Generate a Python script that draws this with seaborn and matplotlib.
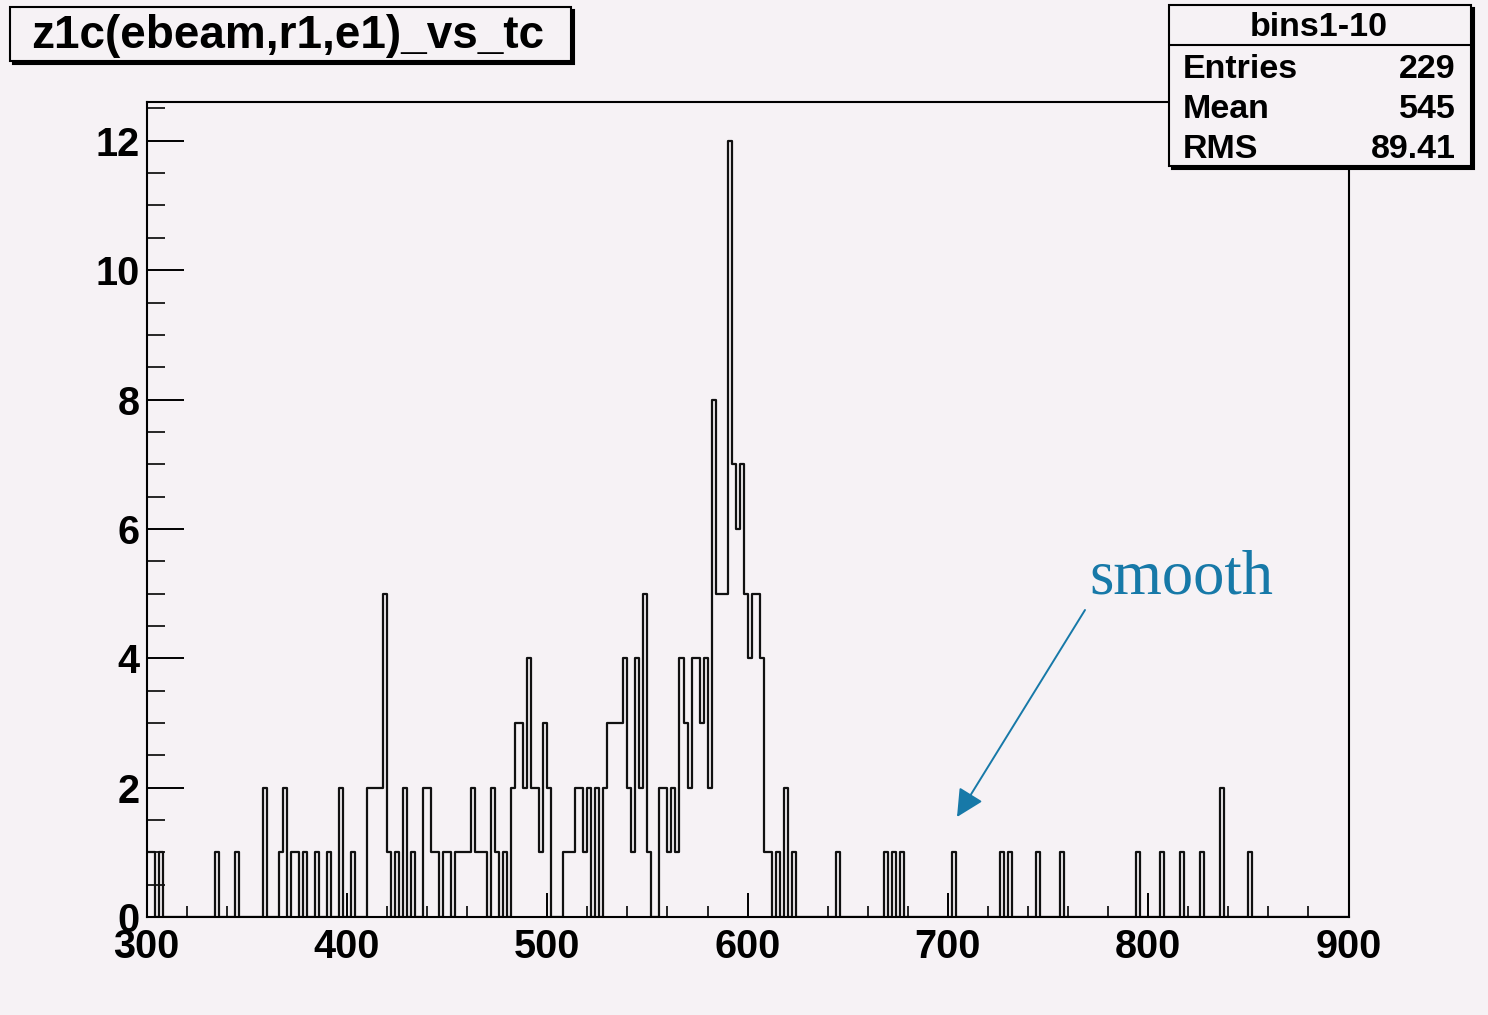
import numpy as np
import pandas as pd
import matplotlib
matplotlib.use("Agg")
import matplotlib.pyplot as plt
from matplotlib.patches import Rectangle, FancyArrowPatch
from matplotlib.ticker import MultipleLocator
import seaborn as sns

# tc bin centres (bin width 2) and their contents
tc_centers = [301, 303, 307, 335, 345, 359, 367, 369, 373, 375, 379, 385, 391,
              397, 403, 411, 413, 415, 417, 419, 421, 425, 429, 433, 439, 441,
              443, 445, 449, 451, 455, 457, 459, 461, 463, 465, 467, 469, 473,
              475, 479, 483, 485, 487, 489, 491, 493, 495, 497, 499, 501, 509,
              511, 513, 515, 517, 519, 521, 525, 529, 531, 533, 535, 537, 539,
              541, 543, 545, 547, 549, 551, 557, 559, 561, 563, 565, 567, 569,
              571, 573, 575, 577, 579, 581, 583, 585, 587, 589, 591, 593, 595,
              597, 599, 601, 603, 605, 607, 609, 611, 615, 619, 623, 645, 669,
              673, 677, 703, 727, 731, 745, 757, 795, 807, 817, 827, 837, 851]
counts = [1, 1, 1, 1, 1, 2, 1, 2, 1, 1, 1, 1, 1,
          2, 1, 2, 2, 2, 2, 5, 1, 1, 2, 1, 2, 2,
          1, 1, 1, 1, 1, 1, 1, 1, 2, 1, 1, 1, 2,
          1, 1, 2, 3, 3, 2, 4, 2, 2, 1, 3, 2, 1,
          1, 1, 2, 2, 1, 2, 2, 2, 3, 3, 3, 3, 4,
          2, 1, 4, 2, 5, 1, 2, 2, 1, 2, 1, 4, 3,
          2, 4, 4, 3, 4, 2, 8, 5, 5, 5, 12, 7, 6,
          7, 5, 4, 5, 5, 4, 1, 1, 1, 2, 1, 1, 1,
          1, 1, 1, 1, 1, 1, 1, 1, 1, 1, 1, 2, 1]

x_ticks = [300, 400, 500, 600, 700, 800, 900]
y_ticks = [0, 2, 4, 6, 8, 10, 12]

hist_title = "z1c(ebeam,r1,e1)_vs_tc"
stats_name = "bins1-10"
stats_labels = ["Entries", "Mean", "RMS"]
stats_values = ["229", "545", "89.41"]
note_text = "smooth"

BG = "#f6f2f5"
W, H = 1488, 1015

sns.set_theme(style="white")
plt.rcParams["font.family"] = ["Liberation Sans", "DejaVu Sans"]

fig = plt.figure(figsize=(W / 100, H / 100), dpi=100, facecolor=BG)

# main frame in pixel placement
left, right, top, bottom = 146.7, 1348.5, 102, 917
ax = fig.add_axes([left / W, 1 - bottom / H, (right - left) / W, (bottom - top) / H])
ax.set_facecolor(BG)

df = pd.DataFrame({"tc": tc_centers, "n": counts})
sns.histplot(data=df, x="tc", weights="n", binwidth=2, binrange=(300, 900),
             element="step", fill=False, color="#111111", linewidth=1.6, ax=ax)

ax.set_xlim(300, 900)
ax.set_ylim(0, 12.6)
ax.set_xticks(x_ticks)
ax.set_yticks(y_ticks)
ax.set_xticklabels([str(t) for t in x_ticks])
ax.set_yticklabels([str(t) for t in y_ticks])
ax.xaxis.set_minor_locator(MultipleLocator(20))
ax.yaxis.set_minor_locator(MultipleLocator(0.5))
ax.set_xlabel("")
ax.set_ylabel("")

ax.tick_params(axis="x", which="major", direction="in", length=17, width=1.4,
               pad=8, labelsize=28.5, colors="black", bottom=True, top=False)
ax.tick_params(axis="x", which="minor", direction="in", length=8, width=1.4,
               bottom=True, top=False)
ax.tick_params(axis="y", which="major", direction="in", length=26.5, width=1.4,
               pad=5, labelsize=28.5, colors="black", left=True, right=False)
ax.tick_params(axis="y", which="minor", direction="in", length=13, width=1.4,
               left=True, right=False)
for lab in ax.get_xticklabels() + ax.get_yticklabels():
    lab.set_fontweight("bold")
for sp in ax.spines.values():
    sp.set_visible(True)
    sp.set_color("black")
    sp.set_linewidth(1.5)

# overlay in pixel coordinates for the title box, stats box and note
ov = fig.add_axes([0, 0, 1, 1], facecolor="none")
ov.set_xlim(0, W)
ov.set_ylim(H, 0)
ov.axis("off")


def shadow_box(x0, y0, x1, y1, off=3):
    ov.add_patch(Rectangle((x0 + off, y0 + off), x1 - x0, y1 - y0,
                           facecolor="black", edgecolor="black", lw=1.5, zorder=5))
    ov.add_patch(Rectangle((x0, y0), x1 - x0, y1 - y0,
                           facecolor=BG, edgecolor="black", lw=1.5, zorder=6))


shadow_box(10, 7, 571, 61)
ov.text(288, 36, hist_title, ha="center", va="center", fontsize=33,
        fontweight="bold", color="black", zorder=7)

shadow_box(1169, 5, 1471, 166)
ov.plot([1169, 1471], [45, 45], color="black", lw=1.5, zorder=7)
ov.text(1319, 27, stats_name, ha="center", va="center", fontsize=24.5,
        fontweight="bold", color="black", zorder=7)
for i, (lab, val) in enumerate(zip(stats_labels, stats_values)):
    yy = 69 + 40 * i
    ov.text(1183, yy, lab, ha="left", va="center", fontsize=24.5,
            fontweight="bold", color="black", zorder=7)
    ov.text(1456, yy, val, ha="right", va="center", fontsize=24.5,
            fontweight="bold", color="black", zorder=7)

NOTE = "#1779a8"
ov.text(1181, 579, note_text, ha="center", va="center", fontsize=45,
        family="Liberation Serif", color=NOTE, zorder=7)
ov.add_patch(FancyArrowPatch((1085, 610), (957, 817), arrowstyle="-|>",
                             mutation_scale=42, lw=1.4, color=NOTE,
                             shrinkA=0, shrinkB=0, zorder=7))

fig.savefig("out.png", dpi=100, facecolor=BG)
